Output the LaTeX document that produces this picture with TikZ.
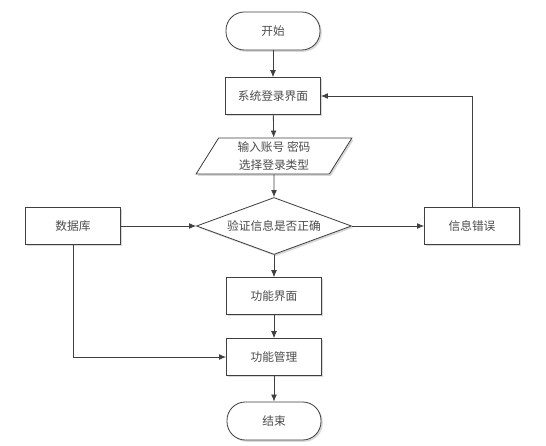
\documentclass[tikz,border=0pt]{standalone}
\usepackage{fontspec}
\newfontfamily\cjk{Noto Sans CJK SC}
\usetikzlibrary{arrows.meta,shapes.geometric,shadows,positioning}

\tikzset{
  base/.style={draw=black!75, fill=white, line width=0.7pt, font=\cjk\fontsize{10pt}{13pt}\selectfont,
    text=black!70, align=center, drop shadow={shadow xshift=1.5pt, shadow yshift=-1.5pt, fill=black!30}},
  terminal/.style={base, rounded corners=0.55cm, minimum width=2.82cm, minimum height=1.14cm},
  process/.style={base, rectangle, minimum width=2.85cm, minimum height=1.1cm},
  io/.style={base, trapezium, trapezium left angle=64, trapezium right angle=116,
    trapezium stretches=true, minimum width=4.7cm, minimum height=1.08cm, inner sep=1pt,
    font=\cjk\fontsize{10pt}{15.5pt}\selectfont},
  decision/.style={base, diamond, shape aspect=2.7, inner sep=1pt, minimum width=4.65cm, minimum height=1.71cm},
  line/.style={draw=black!75, line width=0.7pt, -{Latex[length=6pt,width=5pt]}}
}

\begin{document}
\begin{tikzpicture}[x=0.03cm, y=-0.03cm]
  \useasboundingbox (0,0) rectangle (546,446);

  % Main column
  \node[terminal] (start)  at (273,31)  {开始};
  \node[process]  (login)  at (273,96)  {系统登录界面};
  \node[io]       (input)  at (274,156) {输入账号 密码\\选择登录类型};
  \node[decision] (check)  at (274,226) {验证信息是否正确};
  \node[process]  (func)   at (274,296) {功能界面};
  \node[process]  (manage) at (274,357) {功能管理};
  \node[terminal] (stop)   at (274,421) {结束};

  % Side boxes
  \node[process] (db)  at (73,226)  {数据库};
  \node[process] (err) at (472,226) {信息错误};

  \draw[line] (start) -- (login);
  \draw[line] (login) -- (input);
  \draw[line] (input) -- (check);
  \draw[line] (check) -- (func);
  \draw[line] (func) -- (manage);
  \draw[line] (manage) -- (stop);
  \draw[line] (db) -- (check);
  \draw[line] (check) -- (err);

  % Feedback and database links
  \draw[line] (err.north) |- (login.east);
  \draw[line] (db.south) |- (manage.west);
\end{tikzpicture}
\end{document}
